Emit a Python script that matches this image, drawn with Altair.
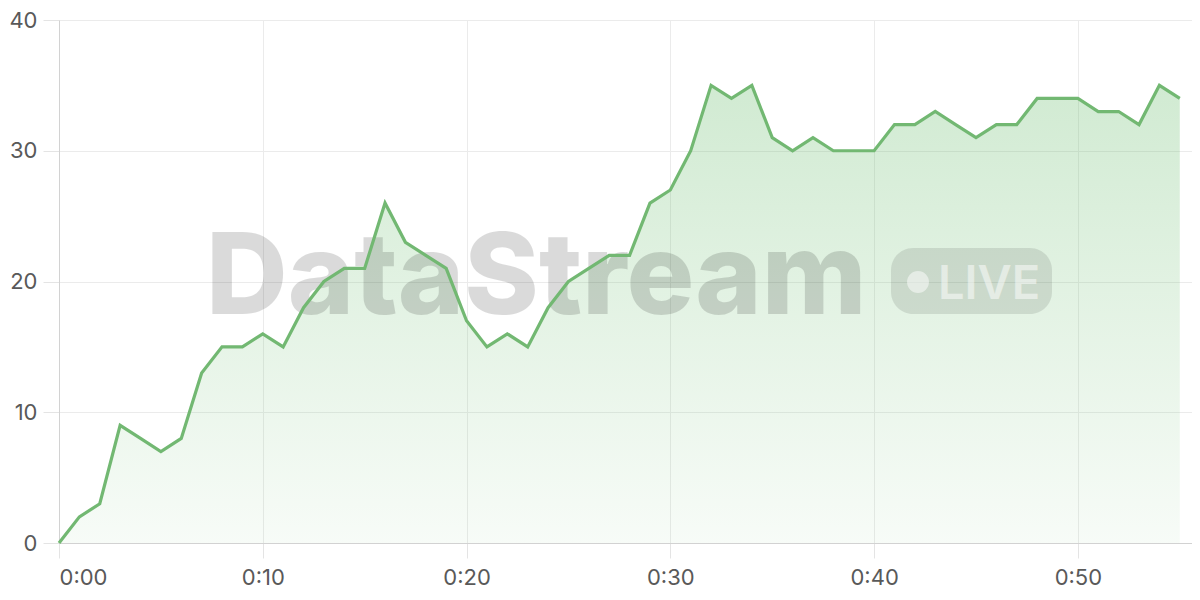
import altair as alt
import pandas as pd

minutes = list(range(56))
values = [0, 2, 3, 9, 8, 7, 8, 13, 15, 15,
          16, 15, 18, 20, 21, 21, 26, 23, 22, 21,
          17, 15, 16, 15, 18, 20, 21, 22, 22, 26,
          27, 30, 35, 34, 35, 31, 30, 31, 30, 30,
          30, 32, 32, 33, 32, 31, 32, 32, 34, 34,
          34, 33, 33, 32, 35, 34]
x_ticks = [0, 10, 20, 30, 40, 50]
y_ticks = [0, 10, 20, 30, 40]

df = pd.DataFrame({"t": minutes, "v": values})

FONT = "Inter"
GREEN = "#72b872"

xscale = alt.Scale(domain=[0, 55.6], nice=False, zero=False)
yscale = alt.Scale(domain=[0, 40], nice=False)

xaxis = alt.Axis(values=x_ticks, title=None, grid=True, gridColor="#ebebeb",
                 domainColor="#d2d2d2", tickColor="#e4e4e4", tickSize=15,
                 labelFontSize=22, labelColor="#595959", labelFont=FONT,
                 labelPadding=9,
                 labelExpr="'0:' + (datum.value < 10 ? '0' + datum.value : datum.value)")
yaxis = alt.Axis(values=y_ticks, title=None, grid=True, gridColor="#ebebeb",
                 domainColor="#d2d2d2", tickColor="#e4e4e4", tickSize=16,
                 labelFontSize=22, labelColor="#595959", labelFont=FONT,
                 labelPadding=6)

base = alt.Chart(df)

area = base.mark_area(
    color=alt.Gradient(
        gradient="linear",
        stops=[alt.GradientStop(color="rgba(102,187,106,0.30)", offset=0),
               alt.GradientStop(color="rgba(102,187,106,0.05)", offset=1)],
        x1=1, x2=1, y1=0, y2=1),
).encode(x=alt.X("t:Q", scale=xscale, axis=xaxis),
         y=alt.Y("v:Q", scale=yscale, axis=yaxis))

line = base.mark_line(color=GREEN, strokeWidth=3.2).encode(
    x=alt.X("t:Q", scale=xscale), y=alt.Y("v:Q", scale=yscale))

wm_text = alt.Chart(pd.DataFrame({"s": ["DataStream"]})).mark_text(
    font=FONT, fontSize=113, fontWeight=800, color="black", opacity=0.14,
    align="left", baseline="alphabetic",
).encode(x=alt.value(147), y=alt.value(294), text="s:N")

pill = alt.Chart(pd.DataFrame({"s": ["pill"]})).mark_rect(
    color="black", opacity=0.1, cornerRadius=22,
).encode(x=alt.value(832), x2=alt.value(993), y=alt.value(228), y2=alt.value(294))

dot = alt.Chart(pd.DataFrame({"s": ["dot"]})).mark_point(
    filled=True, shape="circle", size=480, color="white", opacity=0.5,
).encode(x=alt.value(859), y=alt.value(262))

live = alt.Chart(pd.DataFrame({"s": ["LIVE"]})).mark_text(
    font=FONT, fontSize=47, fontWeight=600, color="white", opacity=0.5,
    align="left", baseline="alphabetic",
).encode(x=alt.value(879), y=alt.value(279), text="s:N")

chart = alt.layer(area, wm_text, pill, dot, live, line).properties(
    width=1133, height=523,
    padding={"left": 0, "top": 1, "right": 0, "bottom": 0},
).configure_view(stroke=None).configure(background="white")

chart.save("out.html", embed_options={"renderer": "svg", "actions": False})
